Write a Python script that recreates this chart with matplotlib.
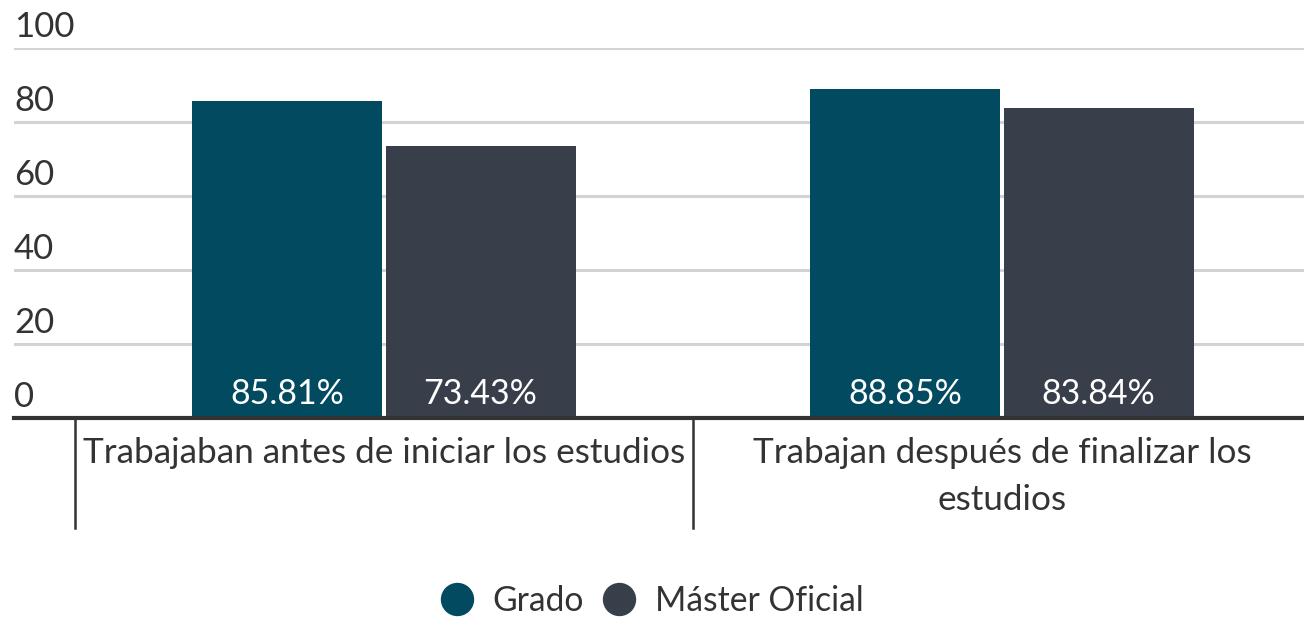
import matplotlib
matplotlib.use("Agg")
import matplotlib.pyplot as plt
from matplotlib.lines import Line2D
import matplotlib.transforms as mtransforms

plt.rcParams['font.family'] = ['Lato', 'DejaVu Sans']

categories = ["Trabajaban antes de iniciar los estudios",
              "Trabajan después de finalizar los\nestudios"]
series_names = ["Grado", "Máster Oficial"]
grado = [85.81, 88.85]
master = [73.43, 83.84]
yticks = [0, 20, 40, 60, 80, 100]

colors = ["#014a60", "#383f4a"]
text_color = "#333333"

W, H = 1304, 619
fig = plt.figure(figsize=(W / 100, H / 100), dpi=100)
ax_left, ax_right = 14 / W, 1304 / W
ax_bottom, ax_top = 1 - 418 / H, 1 - 48 / H
ax = fig.add_axes([ax_left, ax_bottom, ax_right - ax_left, ax_top - ax_bottom])

ax.set_xlim(-0.5987, 1.4887)
ax.set_ylim(0, 100)

bw = 0.3074
off = 0.1562
x = list(range(len(categories)))
for vals, name, c, o in [(grado, series_names[0], colors[0], -off),
                         (master, series_names[1], colors[1], off)]:
    xs = [xi + o for xi in x]
    ax.bar(xs, vals, width=bw, color=c, zorder=3, label=name)
    for xi, v in zip(xs, vals):
        ax.annotate(f"{v:.2f}%", xy=(xi, 0), xytext=(0, 8), textcoords="offset pixels",
                    ha="center", va="bottom", color="white", fontsize=24.5, zorder=4)

# gridlines
for t in yticks[1:]:
    ax.axhline(t, color="#d3d3d3", lw=2.2, zorder=1)
ax.axhline(0, color="#333333", lw=3, zorder=5, clip_on=False)

# y tick labels above gridlines
for t in yticks:
    ax.annotate(str(t), xy=(0, t), xycoords=("axes fraction", "data"),
                xytext=(0, 5), textcoords="offset pixels",
                ha="left", va="bottom", color=text_color, fontsize=25)

# category separators and labels
trans = mtransforms.blended_transform_factory(ax.transData, ax.transAxes)
axh = 370
for b in [-0.5, 0.5, 1.5]:
    ax.plot([b, b], [0, -110 / axh], transform=trans, color="#333333", lw=1.8,
            clip_on=False, zorder=5)
for xi, lab in zip(x, categories):
    ax.annotate(lab, xy=(xi, 0), xycoords=("data", "axes fraction"),
                xytext=(0, -19), textcoords="offset pixels",
                ha="center", va="top", color=text_color, fontsize=25.3,
                linespacing=1.56)

ax.set_xticks([])
ax.set_yticks([])
for s in ax.spines.values():
    s.set_visible(False)

handles = [Line2D([], [], marker="o", linestyle="none", markersize=23,
                  markerfacecolor=c, markeredgecolor=c) for c in colors]
fig.legend(handles, series_names, loc="center", bbox_to_anchor=(0.5, 1 - 601 / H),
           ncol=2, frameon=False, fontsize=24.2, labelcolor=text_color,
           handletextpad=0.55, columnspacing=0.55, handlelength=1.0)

fig.savefig("out.png", dpi=100)
